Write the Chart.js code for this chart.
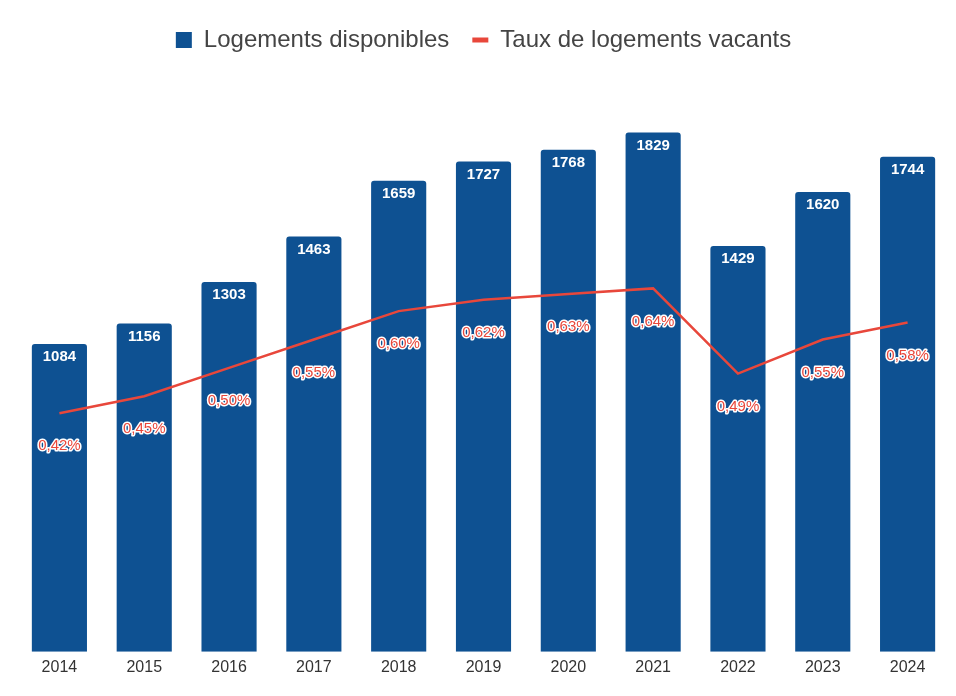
<!DOCTYPE html>
<html>
<head>
<meta charset="utf-8">
<script src="https://cdn.jsdelivr.net/npm/chart.js@4/dist/chart.umd.min.js"></script>
<style>
  html, body { margin:0; padding:0; background:#fff; }
  #wrap { width:956px; height:696px; }
</style>
</head>
<body>
<div id="wrap"><canvas id="chart" width="956" height="696"></canvas></div>
<script>
// données
const years = ['2014','2015','2016','2017','2018','2019','2020','2021','2022','2023','2024'];
const logements = [1084, 1156, 1303, 1463, 1659, 1727, 1768, 1829, 1429, 1620, 1744];
const tauxVacants = [0.42, 0.45, 0.50, 0.55, 0.60, 0.62, 0.63, 0.64, 0.49, 0.55, 0.58];

const BLUE = '#0e5192';
const RED = '#e8473b';
const FONT = '"Liberation Sans", Arial, sans-serif';

// labels sur les barres et la ligne
const labelPlugin = {
  id: 'labels',
  afterDatasetsDraw(chart){
    const ctx = chart.ctx;
    ctx.save();
    ctx.textAlign = 'center';
    ctx.textBaseline = 'middle';

    const barMeta = chart.getDatasetMeta(0);
    ctx.font = 'bold 15px ' + FONT;
    ctx.fillStyle = '#ffffff';
    barMeta.data.forEach((bar, i) => {
      ctx.fillText(String(logements[i]), bar.x, bar.y + 13);
    });

    const lineMeta = chart.getDatasetMeta(1);
    ctx.font = '15px ' + FONT;
    ctx.lineJoin = 'round';
    lineMeta.data.forEach((pt, i) => {
      const txt = tauxVacants[i].toFixed(2).replace('.', ',') + '%';
      ctx.strokeStyle = '#ffffff';
      ctx.lineWidth = 3;
      ctx.strokeText(txt, pt.x, pt.y + 33);
      ctx.fillStyle = RED;
      ctx.fillText(txt, pt.x, pt.y + 33);
    });
    ctx.restore();
  }
};

// espace sous la légende
const legendSpace = {
  id: 'legendSpace',
  beforeInit(chart){
    const fit = chart.legend.fit;
    chart.legend.fit = function(){
      fit.call(this);
      this.height += 22;
    };
  }
};

new Chart(document.getElementById('chart').getContext('2d'), {
  data: {
    labels: years,
    datasets: [
      {
        type: 'bar', label: 'Logements disponibles', data: logements,
        backgroundColor: BLUE, borderRadius: 3, borderSkipped: 'bottom',
        barPercentage: 0.65, categoryPercentage: 1, yAxisID: 'y', order: 1,
        pointStyle: 'rect'
      },
      {
        type: 'line', label: 'Taux de logements vacants', data: tauxVacants,
        borderColor: RED, backgroundColor: RED, borderWidth: 2.5, pointRadius: 0,
        tension: 0, fill: false, yAxisID: 'y2', order: 0,
        pointStyle: 'line'
      }
    ]
  },
  options: {
    responsive: false,
    animation: false,
    layout: { padding: { left: 17, right: 6, top: 5, bottom: 13 } },
    plugins: {
      legend: {
        position: 'top',
        labels: {
          usePointStyle: true,
          pointStyleWidth: 16,
          boxWidth: 16, boxHeight: 16,
          padding: 23,
          color: '#444',
          font: { size: 24, family: FONT },
          sort: (a, b) => a.datasetIndex - b.datasetIndex,
          generateLabels(chart){
            const items = Chart.defaults.plugins.legend.labels.generateLabels(chart);
            items.forEach(it => { if (it.datasetIndex === 1) it.lineWidth = 5; });
            return items;
          }
        }
      },
      tooltip: { enabled: false }
    },
    scales: {
      x: {
        grid: { display: false, drawTicks: false, tickLength: 0 }, border: { display: false },
        ticks: { color: '#333', font: { size: 16, family: FONT }, padding: 6 }
      },
      y: { display: false, min: 0, max: 2000 },
      y2: { display: false, min: 0, max: 1.0, position: 'right' }
    }
  },
  plugins: [legendSpace, labelPlugin]
});
</script>
</body>
</html>
